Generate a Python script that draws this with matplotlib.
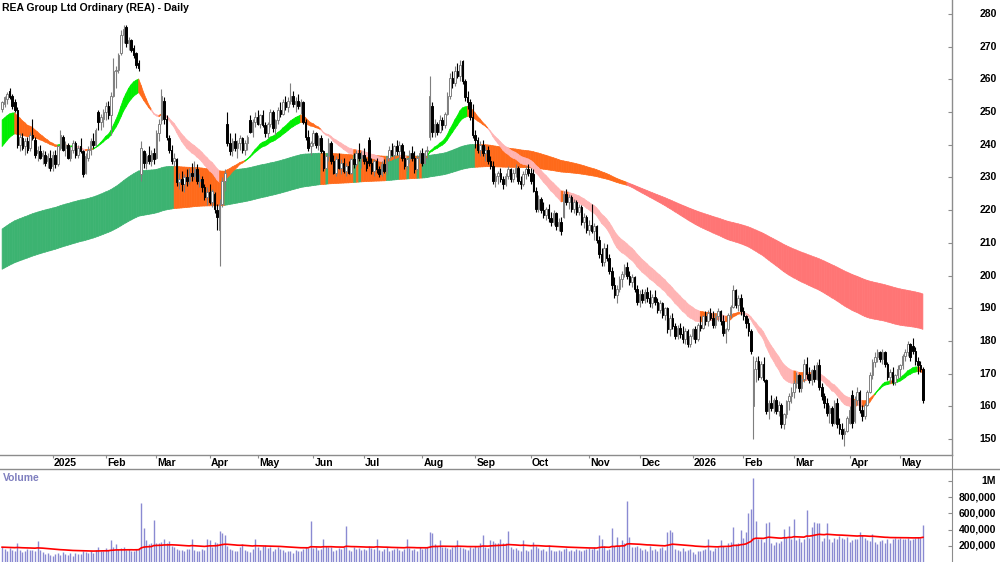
import numpy as np
import pandas as pd
import matplotlib
matplotlib.use("Agg")
import matplotlib.pyplot as plt
from matplotlib.collections import PolyCollection
from matplotlib.lines import Line2D
import matplotlib.transforms as mtransforms

plt.rcParams['font.family'] = ['Liberation Sans', 'DejaVu Sans']

title = "REA Group Ltd Ordinary (REA) - Daily"
start_date, end_date = "2024-12-02", "2026-05-14"
holidays = ["2024-12-25", "2024-12-26", "2025-01-01", "2025-01-27", "2025-04-18",
            "2025-04-21", "2025-04-25", "2025-06-09", "2025-12-25", "2025-12-26",
            "2026-01-01", "2026-01-26", "2026-04-03", "2026-04-06"]

opens = [
    # Dec 2024
    251, 252.5, 254, 256.5, 255, 253, 250.5, 240, 242, 239.5, 241, 239, 243, 241.5, 237.5, 238, 236.5, 237, 235, 236,
    # Jan 2025
    233.5, 237, 234, 239, 242.5, 239, 240, 236, 238.5, 240.5, 237, 239.5, 238, 231.5, 236, 238.5, 241, 240, 250, 247, 248,
    # Feb
    250, 252, 249, 255, 262.5, 263, 268, 273.5, 276, 271, 272, 269.5, 268, 265, 231, 238, 234.5, 237, 235, 237.5,
    # Mar
    236, 243.5, 247.5, 253.5, 248, 242, 238.5, 235, 235.5, 228.5, 229.5, 228, 230, 229, 231.5, 230.5, 232.5, 229, 229.5, 227, 224,
    # Apr
    225.5, 222.5, 225, 220, 214, 222, 229, 246.5, 240.5, 238.5, 241, 239, 240.5, 242, 238.5, 240.5, 247.5, 244, 247,
    # May
    248.5, 246.5, 249, 246, 243.5, 246.5, 250, 245, 247.5, 250.5, 249.5, 253, 251.5, 253.5, 255, 252.5, 253.5, 252, 253, 247, 242.5, 239.5,
    # Jun
    240.5, 243.5, 240, 242, 238, 233, 236.5, 240.5, 235, 231.5, 235.5, 233, 234.5, 232, 233.5, 231.5, 235.5, 234, 237.5, 236,
    # Jul
    237, 235, 241.5, 234.5, 232, 235, 232.5, 231, 234, 232, 236, 238.5, 237, 239.5, 238, 240, 236, 233.5, 235.5, 237.5, 236, 232.5, 236,
    # Aug
    237.5, 234.5, 238, 242.5, 252, 244, 246.5, 244, 247.5, 246, 249.5, 255, 260.5, 259, 262.5, 261, 265.5, 259.5, 254.5, 253, 248.5,
    # Sep
    243, 241.5, 238.5, 240, 237.5, 238.5, 235, 233.5, 229, 230.5, 231.5, 229.5, 228, 230.5, 232.5, 229.5, 231.5, 233, 229, 228, 231, 232.5,
    # Oct
    231.5, 231, 226, 220.5, 223.5, 220, 218.5, 220.5, 217.5, 216.5, 219, 215, 216.5, 218, 225, 222.5, 224, 220.5, 222.5, 219.5, 221, 216.5, 218,
    # Nov
    214, 215.5, 213.5, 215, 211, 206.5, 204, 208.5, 205.5, 201.5, 197, 194, 196, 199, 200.5, 202.5, 200, 198, 199.5, 196,
    # Dec
    192, 194.5, 192.5, 195, 193, 191.5, 193.5, 192, 189.5, 191.5, 188, 190, 183.5, 187, 184.5, 181.5, 184, 182, 180.5, 183, 179,
    # Jan 2026
    181.5, 183.5, 180.5, 185, 184, 187.5, 186, 188.5, 187, 185, 187.5, 189, 186, 182.5, 183.5, 188, 190.5, 195.5, 191, 193,
    # Feb
    189, 187.5, 185.5, 183, 160, 171.5, 174, 169, 173, 168, 158.5, 161, 159.5, 162, 158.5, 160.5, 154.5, 157.5, 161.5, 163,
    # Mar
    164.5, 167, 169.5, 165.5, 168.5, 173, 170, 168, 171, 168.5, 172.5, 166, 163, 161, 158, 159.5, 155, 161, 154.5, 153, 151.5, 152.5,
    # Apr
    155, 163.5, 155.5, 162, 164.5, 159, 157, 160.5, 164.5, 169.5, 173.5, 175, 176.5, 174.5, 176.5, 173, 169, 170.5, 167.5, 169.5,
    # May
    171.5, 172.5, 175.5, 176.5, 179, 178.5, 177, 174, 172.5, 171.5,
]

highs = [
    253.5, 255, 256, 257.5, 255.5, 254, 251.5, 243.5, 243.5, 242, 242.5, 244, 248, 242.5, 239.5, 240, 238.5, 238, 237.5, 238.5,
    238, 238.5, 240, 244.5, 243, 241, 240.5, 239.5, 241.5, 241, 240, 242, 238.5, 237.5, 239.5, 242, 243.5, 245, 250.5, 249.5, 251,
    253, 253.5, 256, 266.5, 264, 268, 275, 276.5, 276.5, 273, 272.5, 270.5, 268.5, 266, 241, 238.5, 237.5, 239.5, 238.5, 239,
    244.5, 248, 257, 254.5, 249, 243, 240, 237.5, 236, 231.5, 232, 231, 232.5, 233, 234.5, 235, 234, 231, 230.5, 228, 227,
    228, 226.5, 225.5, 222, 223.5, 230, 232.5, 250, 243.5, 242, 243.5, 241.5, 243, 242.5, 241.5, 243, 249, 248, 250,
    250.5, 249.5, 250.5, 247, 247, 251, 250.5, 248, 251.5, 253, 254, 255, 254.5, 259, 256.5, 254.5, 255.5, 254, 253.5, 248, 244.5, 241,
    244.5, 244, 243, 243, 238.5, 237, 242, 241, 237, 236.5, 237.5, 235.5, 236, 234.5, 235, 236, 237.5, 238.5, 240.5, 238,
    239, 236, 242.5, 236, 235.5, 236, 233.5, 235, 235.5, 236.5, 239.5, 240.5, 240, 241.5, 241, 240.5, 238, 236, 238.5, 239.5, 238, 237, 238.5,
    239, 238.5, 239.5, 261, 253, 248, 247, 249, 248.5, 250, 256, 262, 262.5, 264, 265, 266, 266, 260, 256.5, 254, 252.5,
    244.5, 242.5, 241, 241.5, 239.5, 239.5, 236.5, 235, 231.5, 232, 233, 230.5, 231.5, 233.5, 233, 232.5, 234, 233.5, 230.5, 232, 233.5, 234,
    233, 232.5, 227, 224.5, 224, 222.5, 221, 222, 219.5, 220, 219.5, 217.5, 218, 226, 226.5, 225, 224.5, 223.5, 223, 222, 221.5, 219, 218.5,
    217, 222, 216, 215.5, 212, 208.5, 210, 209.5, 206.5, 202.5, 199.5, 197, 200, 201.5, 203.5, 204, 201.5, 200.5, 200, 197,
    195.5, 196, 196, 196.5, 195.5, 194.5, 195.5, 193, 192.5, 192, 190.5, 190.5, 188, 188.5, 185.5, 185, 185.5, 184.5, 184, 183.5, 182,
    184, 184.5, 185.5, 187.5, 188, 189, 189.5, 190, 189, 188.5, 190, 189.5, 188, 184, 188.5, 191, 197, 196, 194, 194.5,
    190.5, 188, 187, 183.5, 175.5, 175, 175.5, 174, 175, 168.5, 162, 163.5, 162.5, 163, 161.5, 161, 158, 162, 164, 166,
    168, 170.5, 170, 169.5, 174.5, 175, 172, 171.5, 172.5, 173.5, 174.5, 167, 164, 162.5, 160.5, 160, 162, 162.5, 156.5, 155, 153.5, 157,
    160, 165, 163, 166, 165, 160.5, 161, 165, 170.5, 174.5, 176.5, 177.5, 177, 177.5, 177, 173.5, 171.5, 172, 170, 172.5,
    173, 176, 177.5, 180, 179.5, 181, 178, 175, 174, 172,
]

lows = [
    250, 251.5, 252.5, 254, 251, 250, 239, 238, 238.5, 237, 237.5, 238, 241.5, 236, 235, 235.5, 234, 233.5, 233, 232,
    232, 233, 233.5, 238.5, 238, 236.5, 235.5, 235, 237.5, 236, 236, 237.5, 230, 231, 235, 237, 239, 239.5, 244.5, 244.5, 245.5,
    247.5, 248, 243, 254.5, 257.5, 262, 267.5, 271, 270, 269, 268.5, 266.5, 263.5, 262.5, 229, 233, 232.5, 234, 233.5, 234,
    235.5, 241, 246.5, 246.5, 241.5, 237.5, 234, 233.5, 227.5, 226.5, 226, 225.5, 227.5, 228, 229, 229.5, 228, 227, 225.5, 223, 221.5,
    222, 221, 219, 214, 203, 221, 226, 239.5, 237, 236.5, 238, 236, 238.5, 237.5, 237, 238.5, 243.5, 242.5, 245.5,
    246, 245, 245.5, 242.5, 242, 245.5, 244, 243, 246.5, 248.5, 249, 250.5, 250, 252.5, 251.5, 250, 251, 249.5, 246.5, 241.5, 238, 237,
    239.5, 239, 238.5, 237.5, 232, 232.5, 235, 234, 231, 230.5, 232.5, 231, 231.5, 230.5, 231, 231, 233, 233.5, 235, 233,
    234, 232, 233.5, 231, 230.5, 231.5, 230, 230.5, 231.5, 231, 235, 236.5, 235.5, 237, 236, 235, 232.5, 232, 234.5, 235, 231.5, 232, 234.5,
    233.5, 234, 235.5, 241.5, 242.5, 242.5, 243, 243.5, 244.5, 245, 249, 254, 257.5, 258, 260.5, 259.5, 258.5, 253.5, 251, 247.5, 242,
    239, 237.5, 236.5, 236.5, 235, 234, 232.5, 228, 227, 228, 228.5, 226.5, 227.5, 229.5, 228.5, 228.5, 230, 228, 226.5, 227.5, 229.5, 230.5,
    228, 225.5, 219.5, 219.5, 219, 217.5, 217, 216.5, 215, 215.5, 214, 213.5, 212.5, 217.5, 221.5, 220.5, 219.5, 219, 218.5, 218.5, 215.5, 214.5, 213,
    212.5, 213, 211, 210, 205.5, 203, 203, 204.5, 200.5, 196, 193, 191.5, 195, 196.5, 199.5, 199, 197, 196.5, 195, 191,
    190.5, 191.5, 191.5, 192, 190.5, 190, 191, 188.5, 188.5, 187, 186.5, 182.5, 181.5, 183.5, 180.5, 180.5, 181, 179.5, 179, 178, 178,
    180.5, 179.5, 180, 183, 183.5, 185, 184.5, 186.5, 184, 184, 186, 185, 181.5, 179.5, 183, 187, 190, 190, 189, 188,
    186.5, 184, 181.5, 176, 150, 167.5, 168, 168.5, 167.5, 157.5, 156, 158.5, 158, 157.5, 157, 153.5, 153, 156.5, 159, 161,
    162.5, 165.5, 164.5, 164.5, 167.5, 168.5, 167, 166.5, 167.5, 168, 165, 162, 159.5, 157, 155, 154, 154.5, 153.5, 151.5, 150, 148, 152,
    154.5, 153.5, 155, 160.5, 158, 155.5, 156, 160, 164, 168.5, 172, 173.5, 173.5, 173, 172, 168, 167, 166.5, 166.5, 168.5,
    169, 171.5, 174, 175.5, 174, 176, 172.5, 170, 170.5, 161,
]

closes = [
    253, 254.5, 255.5, 254.5, 252, 250.5, 240, 242.5, 239, 241, 238.5, 243, 242, 237, 238.5, 236, 237.5, 234.5, 236.5, 233,
    237, 234, 239.5, 243, 238.5, 240, 236, 238.5, 240.5, 237, 239, 238, 231, 236.5, 238.5, 241, 240, 244.5, 247, 248.5, 250,
    252, 249, 255, 262.5, 263, 267.5, 273.5, 275.5, 271, 272, 269, 267.5, 264.5, 263.5, 239, 234.5, 236.5, 235, 237.5, 235.5,
    243.5, 246.5, 255, 248, 242.5, 238.5, 235, 236, 228.5, 229.5, 228, 230, 229, 231.5, 230.5, 232.5, 229, 229.5, 227, 224, 225.5,
    222.5, 226, 220.5, 218, 222, 229, 231.5, 240.5, 238, 241, 239, 240.5, 242, 238.5, 240.5, 242.5, 244, 247, 248.5,
    246.5, 249, 246, 243.5, 246.5, 250, 245, 247.5, 250.5, 249.5, 253, 251.5, 253.5, 255, 252.5, 253.5, 252, 253, 247, 242.5, 239, 240.5,
    243.5, 240, 242, 238, 233, 236.5, 240.5, 235, 231.5, 235.5, 233, 234.5, 232, 233.5, 231.5, 235.5, 234, 237.5, 236, 237,
    235, 233, 234.5, 232, 235, 232.5, 231, 234, 232, 236, 238.5, 237, 239.5, 238, 240, 236, 233.5, 235.5, 237.5, 236, 232.5, 236, 237.5,
    234.5, 237.5, 238.5, 255, 244, 246.5, 244, 247.5, 246, 249.5, 255, 260.5, 259, 262.5, 261, 264.5, 259.5, 254.5, 253, 248.5, 243,
    241.5, 238.5, 240, 237.5, 238.5, 235, 233.5, 229, 230.5, 231.5, 229.5, 228, 230.5, 232.5, 229.5, 231.5, 233, 229, 228, 231, 232.5, 231.5,
    229, 226, 220.5, 223.5, 220, 218.5, 220.5, 217.5, 216.5, 219, 215, 216.5, 213.5, 225, 222.5, 224, 220.5, 222.5, 219.5, 221, 216.5, 218, 214,
    215.5, 213.5, 215, 211, 206.5, 204, 208.5, 205.5, 201.5, 197, 194, 196, 199, 200.5, 202.5, 200, 198, 199.5, 196, 192,
    194.5, 192.5, 195, 193, 191.5, 193.5, 192, 189.5, 191.5, 188, 190, 183.5, 187, 184.5, 181.5, 184, 182, 180.5, 183, 179, 181.5,
    183.5, 180.5, 185, 184, 187.5, 186, 188.5, 187, 185, 187.5, 189, 186, 182.5, 183.5, 188, 190.5, 195.5, 191, 193, 189,
    187.5, 185.5, 183, 177, 171.5, 174, 169, 173, 168, 158.5, 161, 159.5, 162, 158.5, 160.5, 154.5, 157.5, 161.5, 163, 164.5,
    167, 169.5, 165.5, 168.5, 173, 170, 168, 171, 168.5, 172.5, 166, 163, 161, 158, 159.5, 155, 161, 154.5, 153, 151.5, 152.5, 156.5,
    159, 155, 162, 164.5, 159, 157, 160.5, 164.5, 169.5, 173.5, 175, 176.5, 174.5, 176.5, 173, 169, 170.5, 167.5, 169.5, 171.5,
    172.5, 175.5, 176.5, 179, 175, 177, 174, 172.5, 171.5, 162,
]

volume_k = [
    185, 160, 140, 175, 150, 130, 230, 150, 120, 140, 160, 150, 145, 140, 258, 150, 120, 100, 110, 90,
    70, 95, 110, 85, 120, 100, 90, 105, 80, 115, 95, 100, 140, 120, 105, 130, 115, 150, 185, 130, 140,
    170, 150, 270, 185, 225, 160, 175, 180, 150, 155, 140, 130, 165, 170, 726, 418, 275, 225, 230, 520,
    234, 230, 245, 290, 230, 255, 200, 190, 160, 145, 150, 140, 165, 155, 290, 150, 140, 135, 160, 150, 290,
    275, 190, 250, 230, 378, 357, 328, 200, 160, 150, 140, 130, 180, 225, 150, 140, 120, 160, 283,
    180, 150, 200, 210, 170, 190, 140, 160, 180, 165, 150, 120, 140, 130, 110, 150, 130, 140, 160, 180, 170, 508,
    170, 180, 150, 160, 279, 200, 185, 190, 140, 150, 170, 160, 180, 443, 150, 140, 190, 160, 170, 150,
    160, 150, 200, 170, 160, 290, 150, 140, 165, 180, 130, 150, 160, 170, 150, 140, 165, 279, 170, 150, 160, 140, 180,
    160, 170, 180, 369, 360, 220, 200, 275, 190, 180, 175, 160, 190, 200, 267, 180, 170, 160, 150, 185, 175,
    200, 190, 230, 328, 190, 170, 267, 260, 240, 230, 283, 240, 230, 381, 180, 160, 170, 150, 140, 267, 150, 130,
    160, 250, 200, 170, 150, 160, 140, 210, 150, 130, 140, 150, 130, 160, 170, 140, 150, 130, 160, 145, 135, 150, 155,
    170, 160, 180, 150, 332, 290, 200, 150, 160, 423, 200, 304, 200, 270, 230, 755, 304, 190, 180, 200,
    170, 150, 160, 140, 200, 150, 160, 140, 170, 180, 150, 369, 390, 375, 160, 150, 140, 170, 130, 150, 160,
    120, 100, 140, 130, 150, 160, 279, 150, 140, 170, 180, 270, 200, 190, 240, 250, 434, 220, 230, 394,
    300, 373, 599, 652, 1042, 505, 287, 290, 250, 484, 492, 230, 210, 250, 240, 260, 410, 300, 443, 280,
    529, 270, 300, 250, 285, 648, 300, 426, 496, 480, 476, 260, 300, 476, 280, 250, 300, 290, 320, 300, 280, 310,
    250, 270, 290, 280, 373, 330, 300, 270, 260, 340, 250, 220, 260, 270, 230, 280, 240, 280, 300, 290,
    300, 280, 290, 300, 270, 290, 300, 310, 300, 455,
]

short_periods = [20, 22, 24, 26, 28, 30]
short_seed = [247, 245.5, 244, 242, 240, 238.5]
long_periods = [150, 170, 190, 210, 230, 250]
long_seed = [213.7, 211.3, 208.8, 206.4, 204, 201.5]
vol_ma_period = 50
vol_ma_seed_k = 183

price_ticks = [150, 160, 170, 180, 190, 200, 210, 220, 230, 240, 250, 260, 270, 280]
vol_ticks = [200000, 400000, 600000, 800000, 1000000]
vol_tick_labels = ["200,000", "400,000", "600,000", "800,000", "1M"]

short_colors = ["#00ee00", "#ff6a1a", "#ffb4b4"]
long_colors = ["#3cb371", "#ff6a1a", "#ff7575"]

# ------------------------------------------------------------------
n = min(len(opens), len(highs), len(lows), len(closes), len(volume_k))
o = np.array(opens[:n], float)
h = np.array(highs[:n], float)
l = np.array(lows[:n], float)
c = np.array(closes[:n], float)
v = np.array(volume_k[:n], float) * 1000
x = np.arange(n)

dates = pd.bdate_range(start_date, end_date)
dates = dates[~dates.isin(pd.to_datetime(holidays))][:n]


def ema(values, period, seed):
    a = 2.0 / (period + 1)
    out = np.empty(len(values))
    prev = seed
    for i, val in enumerate(values):
        prev = prev + a * (val - prev)
        out[i] = prev
    return out


def draw_ribbon(ax, periods, seeds, colors, z):
    emas = np.array([ema(c, p, s) for p, s in zip(periods, seeds)])
    upper = emas.max(axis=0)
    lower = emas.min(axis=0)
    fast, slow = emas[0], emas[-1]
    steps = np.diff(emas, axis=1, prepend=np.array(seeds, float)[:, None])
    all_up = np.all(steps > 0, axis=0)
    all_down = np.all(steps < 0, axis=0)
    state = np.where((fast > slow) & all_up, 0, np.where((fast < slow) & all_down, 2, 1))
    polys, cols = [], []
    for i in range(n - 1):
        polys.append([(i, lower[i]), (i + 1, lower[i + 1]), (i + 1, upper[i + 1]), (i, upper[i])])
        cols.append(colors[state[i + 1]])
    pc = PolyCollection(polys, facecolors=cols, edgecolors=cols, linewidths=0.5, zorder=z)
    ax.add_collection(pc)


W, H = 1000, 562


def rect(left, top, right, bottom):
    return [left / W, 1 - bottom / H, (right - left) / W, (bottom - top) / H]


fig = plt.figure(figsize=(10, 5.62), dpi=100)
ax = fig.add_axes(rect(0, 0, 952, 455))
axd = fig.add_axes(rect(0, 455, 952, 469))
axv = fig.add_axes(rect(0, 469, 952, 562))

xlim = (-0.834, 375.5)
spine_col = "#8c8c8c"
up_col = "#7f7f7f"

# main price panel
draw_ribbon(ax, long_periods, long_seed, long_colors, 1)
draw_ribbon(ax, short_periods, short_seed, short_colors, 2)
up = c >= o
ax.vlines(x[up], l[up], h[up], colors=up_col, linewidth=0.8, zorder=3)
ax.vlines(x[~up], l[~up], h[~up], colors="black", linewidth=0.8, zorder=3)
body_lo = np.minimum(o, c)
body_h = np.maximum(np.abs(c - o), 0.25)
ax.bar(x[up], body_h[up], bottom=body_lo[up], width=0.62, color="white",
       edgecolor=up_col, linewidth=0.7, zorder=4)
ax.bar(x[~up], body_h[~up], bottom=body_lo[~up], width=0.62, color="black",
       edgecolor="black", linewidth=0.7, zorder=4)

ax.set_xlim(*xlim)
ax.set_ylim(145.1, 284.28)
ax.set_xticks([])
ax.set_yticks(price_ticks)
ax.yaxis.tick_right()
ax.tick_params(axis="y", direction="in", length=3, color=spine_col, labelright=False, labelleft=False)
for s in ["left", "top"]:
    ax.spines[s].set_visible(False)
for s in ["right", "bottom"]:
    ax.spines[s].set_color(spine_col)
    ax.spines[s].set_linewidth(1.0)
trans = mtransforms.blended_transform_factory(fig.transFigure, ax.transData)
for t in price_ticks:
    ax.text(997 / W, t, str(t), transform=trans, ha="right", va="center",
            fontsize=7.5, fontweight="bold", clip_on=False)

fig.text(2 / W, 1 - 8 / H, title, ha="left", va="center", fontsize=7.5, fontweight="bold")

# date band
axd.set_xlim(*xlim)
axd.set_ylim(0, 1)
axd.set_xticks([])
axd.set_yticks([])
axd.patch.set_alpha(0)
axd.spines["left"].set_visible(False)
axd.spines["top"].set_visible(False)
axd.spines["bottom"].set_visible(False)
axd.spines["right"].set_color(spine_col)
months = pd.Series(dates.to_period("M"))
first_idx = months.index[months != months.shift(1)].tolist()
for k, idx in enumerate(first_idx):
    if k == 0:
        continue
    d = dates[idx]
    label = str(d.year) if d.month == 1 else d.strftime("%b")
    axd.vlines(idx, 0.82, 1.0, color=spine_col, linewidth=0.8)
    axd.text(idx + 0.5, 0.42, label, ha="left", va="center", fontsize=7.5, fontweight="bold")
fig.add_artist(Line2D([0, 1], [1 - 469 / H, 1 - 469 / H], color=spine_col, linewidth=1.0))

# volume panel
axv.vlines(x, 0, v, colors="#8a8ad2", linewidth=1.0, zorder=2)
vol_ma = ema(v, vol_ma_period, vol_ma_seed_k * 1000)
axv.plot(x, vol_ma, color="#ff0000", linewidth=1.2, zorder=3)
axv.set_xlim(*xlim)
axv.set_ylim(0, 1.148e6)
axv.set_xticks([])
axv.set_yticks(vol_ticks)
axv.yaxis.tick_right()
axv.tick_params(axis="y", direction="in", length=3, color=spine_col, labelright=False, labelleft=False)
for s in ["left", "top", "bottom"]:
    axv.spines[s].set_visible(False)
axv.spines["right"].set_color(spine_col)
transv = mtransforms.blended_transform_factory(fig.transFigure, axv.transData)
for t, lab in zip(vol_ticks, vol_tick_labels):
    axv.text(996 / W, t, lab, transform=transv, ha="right", va="center",
             fontsize=7.5, fontweight="bold", clip_on=False)
fig.text(3 / W, 1 - 478 / H, "Volume", ha="left", va="center", fontsize=7.5,
         fontweight="bold", color="#7f7fbf")

fig.savefig("out.png", dpi=100)
